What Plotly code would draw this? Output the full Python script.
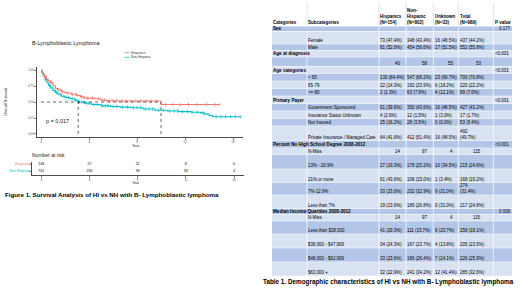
import plotly.graph_objects as go

W, H = 520, 292

# ---------------- data: Kaplan-Meier curves ----------------
groups = ["Hispanics", "Non-Hispanic"]
hisp_time = [0, 0.08, 0.18, 0.3, 0.45, 0.6, 0.8, 1.0, 1.2, 1.4, 1.7, 2.0, 2.5, 3.0, 3.3, 3.6, 4.5, 5.0, 5.5, 6.5, 10.0, 14.9]
hisp_surv = [1.0, 0.97, 0.93, 0.90, 0.86, 0.83, 0.80, 0.75, 0.71, 0.69, 0.66, 0.64, 0.62, 0.60, 0.58, 0.56, 0.55, 0.53, 0.52, 0.515, 0.46, 0.46]
nh_time = [0, 0.05, 0.15, 0.25, 0.35, 0.5, 0.65, 0.8, 1.0, 1.2, 1.4, 1.7, 2.0, 2.4, 2.8, 3.1, 3.6, 4.2, 5.0, 5.8, 6.6, 7.5, 8.5, 9.5, 10.5, 11.5, 12.5, 13.3, 13.6, 14.0, 14.3, 16.7]
nh_surv = [1.0, 0.97, 0.93, 0.89, 0.85, 0.80, 0.76, 0.72, 0.68, 0.65, 0.62, 0.59, 0.57, 0.55, 0.53, 0.50, 0.48, 0.46, 0.44, 0.43, 0.42, 0.41, 0.39, 0.37, 0.36, 0.35, 0.34, 0.33, 0.31, 0.29, 0.27, 0.27]
hisp_cens = [0.3, 0.9, 1.5, 1.8, 2.2, 2.6, 2.9, 3.4, 3.9, 4.3, 4.8, 5.3, 5.7, 6.0, 6.3, 6.8, 7.1, 7.5, 7.9, 8.3, 8.8, 9.2, 9.6, 10.4, 11.0, 11.6, 12.3, 13.0, 13.8, 14.5, 14.9]
nh_cens = [0.4, 0.7, 1.1, 1.3, 1.6, 1.9, 2.1, 2.3, 2.6, 2.9, 3.2, 3.4, 3.8, 4.0, 4.4, 4.7, 5.1, 5.4, 5.6, 6.0, 6.3, 6.8, 7.2, 7.7, 8.0, 8.3, 8.7, 9.0, 9.3, 9.8, 10.2, 10.7, 11.1, 11.4, 11.8, 12.2, 12.6, 13.0, 13.5, 14.6, 15.0, 15.4, 15.8, 16.2, 16.6]
median_hisp = 10.0
median_nh = 3.1
p_text = "p = 0.017"
km_title = "B-Lymphoblastic Lymphoma"
km_x_ticks = [0, 4, 8, 12, 16]
km_y_ticks = [0.0, 0.25, 0.5, 0.75, 1.0]
km_y_labels = ["0.00", "0.25", "0.50", "0.75", "1.00"]
risk_times = [0, 4, 8, 12, 16]
risk_hisp = [146, 57, 21, 8, 0]
risk_nh = [742, 230, 93, 33, 4]
fig_caption = "Figure 1. Survival Analysis of HI vs NH with B- Lymphoblastic lymphoma"

# ---------------- data: table ----------------
tbl_header = ["Categories", "Subcategories", "Hispanics<br>(N=154)", "Non-<br>Hispanic<br>(N=802)",
              "Unknown<br>(N=33)", "Total<br>(N=989)", "P value"]
tbl_category = ["Sex", "", "", "Age at diagnosis", "", "Age categories", "", "", "", "Primary Payer",
                "", "", "", "", "Percent No High School Degree 2008-2012", "", "", "", "", "",
                "Median Income Quartiles 2008-2012", "", "", "", "", ""]
tbl_sub = ["", "Female", "Male", "", "", "", "< 65", "65-79", ">= 80", "",
           "Government Sponsored", "Insurance Status Unknown", "Not Insured", "Private Insurance / Managed Care",
           "", "N-Miss", "13% - 20.9%", "21% or more", "7%-12.9%", "Less than 7%",
           "", "N-Miss", "Less than $38,000", "$38,000 - $47,999", "$48,000 - $62,999", "$63,000 +"]
tbl_hisp = ["", "73 (47.4%)", "81 (52.6%)", "", "40", "", "130 (84.4%)", "22 (14.3%)", "2 (1.3%)", "",
            "61 (39.6%)", "4 (2.6%)", "25 (16.2%)", "64 (41.6%)", "", "14", "27 (19.3%)", "61 (43.6%)",
            "33 (23.6%)", "19 (13.6%)", "", "14", "41 (29.3%)", "34 (24.3%)", "33 (23.6%)", "32 (22.9%)"]
tbl_nonhisp = ["", "348 (43.4%)", "454 (56.6%)", "", "58", "", "547 (68.2%)", "192 (23.9%)", "63 (7.9%)", "",
               "350 (43.6%)", "12 (1.5%)", "28 (3.5%)", "412 (51.4%)", "", "97", "178 (25.2%)", "106 (15.0%)",
               "232 (32.9%)", "189 (26.8%)", "", "97", "111 (15.7%)", "167 (23.7%)", "186 (26.4%)", "241 (34.2%)"]
tbl_unknown = ["", "16 (48.5%)", "17 (51.5%)", "", "55", "", "23 (69.7%)", "6 (18.2%)", "4 (12.1%)", "",
               "16 (48.5%)", "1 (3.0%)", "0 (0.0%)", "16 (48.5%)", "", "4", "10 (34.5%)", "1 (3.4%)",
               "9 (31.0%)", "9 (31.0%)", "", "4", "6 (20.7%)", "4 (13.8%)", "7 (24.1%)", "12 (41.4%)"]
tbl_total = ["", "437 (44.2%)", "552 (55.8%)", "", "53", "", "700 (70.8%)", "220 (22.2%)", "69 (7.0%)", "",
             "427 (43.2%)", "17 (1.7%)", "53 (5.4%)", "492<br>(49.7%)", "", "115", "215 (24.6%)", "168 (19.2%)",
             "274<br>(31.4%)", "217 (24.8%)", "", "115", "158 (18.1%)", "205 (23.5%)", "226 (25.9%)", "285 (32.6%)"]
tbl_p = ["0.177", "", "", "<0.001", "", "<0.001", "", "", "", "<0.001", "", "", "", "", "<0.001", "", "",
         "", "", "", "0.006", "", "", "", "", ""]
tbl_caption = "Table 1. Demographic characteristics of HI vs NH with B- Lymphoblastic lymphoma"

# ---------------- styles ----------------
RED = "#F8766D"
TEAL = "#00BFC4"
BAND_DARK = "#b4c6e7"
BAND_LIGHT = "#d9e2f3"
SANS = "Liberation Sans, Arial, sans-serif"
col_x = [272, 307, 379, 406, 433.3, 458.3, 493.3, 512]
num_anchor = [400, 426.5, 452.5, 480.5]
table_top = 3
header_bottom = 26.5
row_heights = [5, 12.5, 6.5, 6.5, 9.5, 7, 7.5, 7.5, 7.5, 7.5, 7.5, 7.5, 7.5, 14.5, 7.5, 6.5,
               14.5, 13.5, 12.5, 13.5, 6, 6.5, 13, 14, 14, 14]
TFS = 4.45
TFS_BOLD = 4.5


def xd(px):
    return px / W


def yd(py):
    return 1 - py / H


def step_at(t, times, surv):
    s = surv[0]
    for ti, si in zip(times, surv):
        if ti <= t:
            s = si
        else:
            break
    return s


fig = go.Figure()

# KM curves
for times, surv, cens, color in [(nh_time, nh_surv, nh_cens, TEAL), (hisp_time, hisp_surv, hisp_cens, RED)]:
    fig.add_trace(go.Scatter(x=times, y=surv, mode="lines", line=dict(color=color, width=1.1, shape="hv"),
                             xaxis="x", yaxis="y", showlegend=False, hoverinfo="skip"))
    fig.add_trace(go.Scatter(x=cens, y=[step_at(t, times, surv) for t in cens], mode="markers",
                             marker=dict(symbol="line-ns", size=2.6, color=color, line=dict(color=color, width=0.7)),
                             xaxis="x", yaxis="y", showlegend=False, hoverinfo="skip"))

# risk table numbers
fig.add_trace(go.Scatter(x=risk_times + risk_times, y=[1] * len(risk_times) + [0] * len(risk_times),
                         text=[str(v) for v in risk_hisp + risk_nh], mode="text",
                         textfont=dict(size=3.6, color="black", family=SANS),
                         xaxis="x2", yaxis="y2", showlegend=False, hoverinfo="skip"))

# dummy trace for pixel-coordinate layer
fig.add_trace(go.Scatter(x=[0], y=[0], mode="markers", marker=dict(opacity=0), xaxis="x3", yaxis="y3",
                         showlegend=False, hoverinfo="skip"))

shapes = []
ann = []

# median dotted lines
dot = dict(color="black", width=0.6, dash="dot")
shapes.append(dict(type="line", xref="x", yref="y", x0=0, x1=median_hisp, y0=0.5, y1=0.5, line=dot))
shapes.append(dict(type="line", xref="x", yref="y", x0=median_nh, x1=median_nh, y0=0, y1=0.5, line=dot))
shapes.append(dict(type="line", xref="x", yref="y", x0=median_hisp, x1=median_hisp, y0=0, y1=0.5, line=dot))


def text(x, y, s, size, xanchor="left", color="black", family=SANS, xref="x3", yref="y3", **kw):
    ann.append(dict(x=x, y=y, xref=xref, yref=yref, text=s, showarrow=False, xanchor=xanchor,
                    yanchor=kw.pop("yanchor", "middle"), font=dict(size=size, color=color, family=family),
                    borderpad=0, borderwidth=0, **kw))


# KM texts
text(32, 43, km_title, 5.4, color="#1a1a1a")
shapes.append(dict(type="line", xref="x3", yref="y3", x0=124.5, x1=129.5, y0=52.7, y1=52.7, line=dict(color=RED, width=0.8)))
shapes.append(dict(type="line", xref="x3", yref="y3", x0=124.5, x1=129.5, y0=57.3, y1=57.3, line=dict(color=TEAL, width=0.8)))
text(131, 52.7, groups[0], 3.3, color="#333")
text(131, 57.3, groups[1], 3.3, color="#333")
text(5, 102, "Overall Survival", 4.0, xanchor="center", textangle=-90, color="#1a1a1a")
text(136, 146, "Year", 3.7, xanchor="center", color="#1a1a1a")
text(0.4, 0.2, p_text, 5.5, xref="x", yref="y", color="#1a1a1a")

# risk table texts
text(32, 155, "Number at risk", 5.0, color="#1a1a1a")
text(31, 1, groups[0], 3.6, xanchor="right", color=RED, yref="y2")
text(31, 0, groups[1], 3.6, xanchor="right", color=TEAL, yref="y2")
text(136, 183, "Year", 3.6, xanchor="center", color="#1a1a1a")
text(5, 194, "<b>" + fig_caption + "</b>", 6.2)

# ---------------- table ----------------
tops = []
y = header_bottom
for h in row_heights:
    tops.append(y)
    y += h

# header vertical lines
for cx in col_x[1:-1]:
    shapes.append(dict(type="line", xref="x3", yref="y3", x0=cx, x1=cx, y0=table_top, y1=header_bottom,
                       line=dict(color="#c3d1ec", width=0.6), layer="above"))

for i, h in enumerate(row_heights):
    top = tops[i]
    bot = top + h
    fill = BAND_DARK if i % 2 == 0 else BAND_LIGHT
    shapes.append(dict(type="rect", xref="x3", yref="y3", x0=col_x[0], x1=col_x[-1], y0=top, y1=bot,
                       fillcolor=fill, line=dict(width=0), layer="below"))
    for j, cx in enumerate(col_x[1:-1]):
        if j == 0 and tbl_category[i]:
            continue
        shapes.append(dict(type="line", xref="x3", yref="y3", x0=cx, x1=cx, y0=top, y1=bot,
                           line=dict(color="white", width=0.7), layer="above"))
    shapes.append(dict(type="line", xref="x3", yref="y3", x0=col_x[0], x1=col_x[-1], y0=bot, y1=bot,
                       line=dict(color="white", width=0.5), layer="above"))

# header texts
for j, s in enumerate(tbl_header):
    n = s.count("<br>") + 1
    text(col_x[j] + 1.3, 22 - (n - 1) * 3.0, "<b>" + s + "</b>", TFS_BOLD, align="left")


def cell_y(bot, s):
    n = s.count("<br>") + 1
    return bot - 3.2 - (n - 1) * 3.0


for i, h in enumerate(row_heights):
    bot = tops[i] + h
    if tbl_category[i]:
        text(col_x[0] + 1.3, cell_y(bot, ""), "<b>" + tbl_category[i] + "</b>", 4.6)
    if tbl_sub[i]:
        text(col_x[1] + 1.3, cell_y(bot, ""), tbl_sub[i], TFS)
    for j, col in enumerate([tbl_hisp, tbl_nonhisp, tbl_unknown, tbl_total]):
        s = col[i]
        if not s:
            continue
        if "(" in s:
            text(col_x[2 + j] + 1.3, cell_y(bot, s), s, TFS, align="left")
        else:
            text(num_anchor[j], cell_y(bot, s), s, TFS, xanchor="right")
    pv = tbl_p[i]
    if pv:
        if pv.startswith("<"):
            text(col_x[6] + 1.3, cell_y(bot, pv), pv, TFS)
        else:
            text(col_x[7] - 0.8, cell_y(bot, pv), pv, TFS, xanchor="right")

text(263, 282, "<b>" + tbl_caption + "</b>", 6.35)

axis_common = dict(showgrid=False, zeroline=False, showline=True, linecolor="black", linewidth=0.7,
                   ticks="outside", ticklen=2, tickwidth=0.6, tickcolor="#333")

fig.update_layout(
    width=W, height=H, margin=dict(l=0, r=0, t=0, b=0),
    paper_bgcolor="white", plot_bgcolor="rgba(0,0,0,0)", showlegend=False,
    font=dict(family=SANS),
    xaxis=dict(domain=[xd(37), xd(243)], range=[-0.333, 16.833], anchor="y", tickvals=km_x_ticks,
               tickfont=dict(size=3.0, color="#4d4d4d"), **axis_common),
    yaxis=dict(domain=[yd(137), yd(67)], range=[-0.047, 1.047], anchor="x", tickvals=km_y_ticks,
               ticktext=km_y_labels, tickfont=dict(size=2.8, color="#4d4d4d"), **axis_common),
    xaxis2=dict(domain=[xd(32), xd(244)], range=[-0.77, 16.83], anchor="y2", tickvals=risk_times,
                tickfont=dict(size=3.0, color="#4d4d4d"), **axis_common),
    yaxis2=dict(domain=[yd(175), yd(161.5)], range=[-0.571, 1.357], anchor="x2", tickvals=[0, 1],
                ticktext=["", ""], **axis_common),
    xaxis3=dict(domain=[0, 1], range=[0, W], anchor="y3", visible=False, fixedrange=True),
    yaxis3=dict(domain=[0, 1], range=[H, 0], anchor="x3", visible=False, fixedrange=True),
    shapes=shapes,
    annotations=ann,
)

fig.write_html("out.html", config={"displayModeBar": False, "staticPlot": True},
               post_script="document.body.style.margin='0';document.body.style.overflow='hidden';")
